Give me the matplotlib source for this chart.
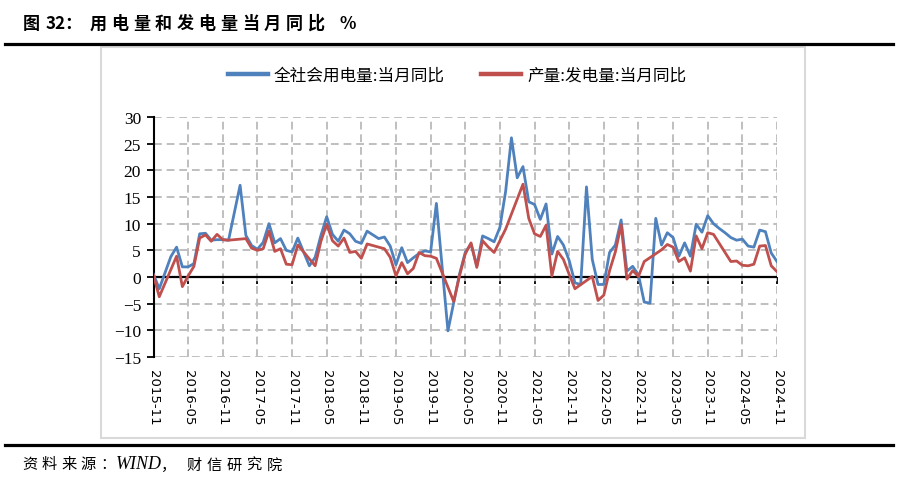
import numpy as np
import pandas as pd
import matplotlib
matplotlib.use('Agg')
import matplotlib.pyplot as plt
from matplotlib.lines import Line2D
from matplotlib.patches import Rectangle

W, H = 907, 489

# monthly data 2015-11 .. 2024-11, None = no value for that month
months = pd.period_range('2015-11', '2024-11', freq='M').strftime('%Y-%m').tolist()

use_yoy = [0.5, -2.2,
           None, 3.8, 5.6, 1.9, 1.9, 2.5, 8.1, 8.2, 6.9, 7.0, 7.0, 6.9,
           None, 17.2, 7.8, 5.9, 5.2, 6.5, 10.0, 6.4, 7.2, 5.0, 4.7, 7.3,
           None, 2.1, 3.7, 7.8, 11.3, 8.0, 6.7, 8.8, 8.1, 6.7, 6.3, 8.6,
           None, 7.2, 7.5, 5.8, 2.3, 5.5, 2.7, 3.6, 4.4, 4.9, 4.7, 13.8,
           None, -10.1, -4.8, 0.5, 4.6, 6.2, 2.1, 7.7, 7.2, 6.6, 9.3, 16.1,
           26.1, 18.6, 20.7, 14.1, 13.6, 10.8, 13.7, 4.3, 7.6, 6.0, 3.1, -1.1,
           -1.4, 16.9, 3.3, -1.4, -1.4, 4.6, 6.0, 10.7, 1.1, 2.0, 0.4, -4.7,
           -4.9, 11.0, 6.0, 8.3, 7.4, 3.9, 6.4, 3.9, 9.9, 8.4, 11.5, 10.0,
           9.1, 8.3, 7.4, 6.9, 7.1, 5.8, 5.6, 8.8, 8.5, 4.5, 2.9]

gen_yoy = [0.3, -3.7,
           None, None, 3.9, -1.8, 0.2, 2.0, 7.3, 7.9, 6.7, 8.0, 7.0, 6.9,
           None, None, 7.2, 5.4, 5.0, 5.3, 8.6, 4.8, 5.3, 2.4, 2.3, 6.0,
           None, None, 2.1, 6.7, 9.9, 6.8, 5.8, 7.3, 4.6, 4.8, 3.5, 6.2,
           None, None, 5.3, 3.7, 0.2, 2.7, 0.6, 1.6, 4.6, 4.0, 3.9, 3.5,
           None, None, -4.6, 0.2, 4.3, 6.4, 1.8, 6.8, 5.6, 4.6, 6.8, 9.0,
           None, None, 17.4, 11.0, 8.1, 7.6, 9.7, 0.2, 4.8, 3.3, 0.5, -2.2,
           None, None, 0.1, -4.4, -3.4, 1.2, 4.7, 9.8, -0.4, 1.2, 0.1, 2.9,
           None, None, 5.1, 6.1, 5.6, 2.9, 3.6, 1.1, 7.7, 5.3, 8.3, 8.0,
           None, None, 2.9, 3.0, 2.2, 2.1, 2.4, 5.8, 5.9, 2.1, 1.0]

series_names = ['全社会用电量:当月同比', '产量:发电量:当月同比']
colors = ['#4F81BD', '#C0504D']

plt.rcParams['font.family'] = ['Noto Sans CJK SC', 'DejaVu Sans']

fig = plt.figure(figsize=(W / 100, H / 100), dpi=100)
ax = fig.add_axes([153.5 / W, 1 - 358 / H, (777 - 153.5) / W, (358 - 118) / H])

x = np.arange(len(months))
for vals, c in zip([use_yoy, gen_yoy], colors):
    v = np.array(vals, dtype=float)
    ok = ~np.isnan(v)
    ax.plot(x[ok], v[ok], color=c, lw=2.0, solid_joinstyle='round', zorder=3)

ax.set_xlim(0, len(months) - 1)
ax.set_ylim(-15, 30)
ax.set_yticks(np.arange(-15, 31, 5))
tick_pos = x[::6]
ax.set_xticks(tick_pos)
ax.set_xticklabels([months[i] for i in tick_pos], rotation=-90,
                   family='DejaVu Sans', fontsize=9.5)
ax.tick_params(axis='x', length=0, pad=9)
ax.tick_params(axis='y', length=5, width=1.3, direction='out', pad=4,
               labelsize=12.5)
for lab in ax.get_yticklabels():
    lab.set_family('Liberation Serif')

ax.set_axisbelow(True)
ax.grid(True, color='#BFBFBF', lw=1.4, ls=(0, (4, 2.5)))
for s in ['top', 'right', 'bottom']:
    ax.spines[s].set_visible(False)
ax.spines['left'].set_linewidth(1.5)

# x axis line with ticks sits at y = 0
ax.axhline(0, color='black', lw=1.6, zorder=2)
sec = ax.secondary_xaxis(15 / 45)
sec.set_xticks(tick_pos)
sec.set_xticklabels([])
sec.spines['bottom'].set_visible(False)
sec.tick_params(length=5, width=1.3, direction='out')

handles = [Line2D([], [], color=c, lw=3.2) for c in colors]
fig.legend(handles, series_names, loc='center', bbox_to_anchor=(457 / W, 1 - 76 / H),
           ncol=2, frameon=False, fontsize=12, handlelength=2.4,
           handletextpad=0.35, columnspacing=2.2)

# chart area border and the heavy rules
fig.add_artist(Rectangle((101 / W, 1 - 439 / H), (805 - 101) / W, (439 - 48) / H,
                         transform=fig.transFigure, fill=False,
                         edgecolor='#D9D9D9', lw=1.5))
for yy in [44.5, 445.5]:
    fig.add_artist(Line2D([5 / W, 893 / W], [1 - yy / H, 1 - yy / H],
                          transform=fig.transFigure, color='black', lw=2.3))


def spaced(x0, y, s, pitch, **kw):
    for i, ch in enumerate(s):
        fig.text((x0 + i * pitch) / W, 1 - y / H, ch, va='center', **kw)


tkw = dict(fontsize=12.3, fontweight='bold')
fig.text(22.5 / W, 1 - 24 / H, '图', va='center', **tkw)
fig.text(46 / W, 1 - 24 / H, '32：', va='center', **tkw)
spaced(89.5, 24, '用电量和发电量当月同比', 21.8, **tkw)
fig.text(339 / W, 1 - 24 / H, '%', va='center', **tkw)

skw = dict(fontsize=11, style='italic')
spaced(22, 465, '资料来源：', 19.6, **skw)
fig.text(116 / W, 1 - 465 / H, 'WIND', va='center', family='Liberation Serif',
         fontsize=13, style='italic')
fig.text(161 / W, 1 - 465 / H, '，', va='center', **skw)
spaced(186, 465, '财信研究院', 20.2, **skw)

fig.savefig('out.png', dpi=100)
